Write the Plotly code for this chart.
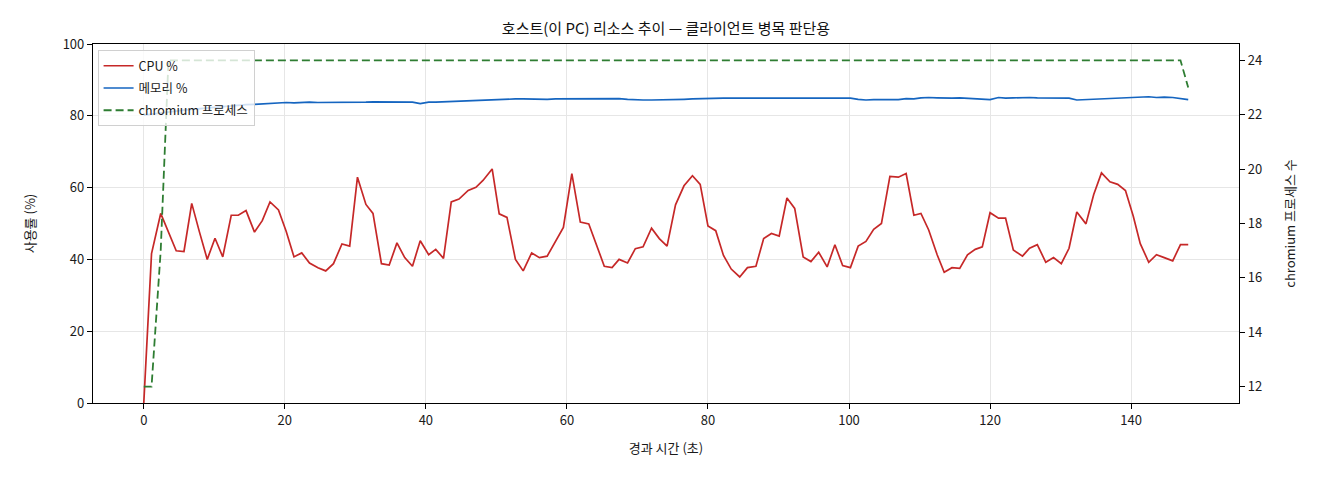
import plotly.graph_objects as go

# 경과 시간 (초)
elapsed = [
    0.0, 1.1, 2.4, 3.5, 4.6, 5.7, 6.8, 7.9, 9.0, 10.1,
    11.2, 12.4, 13.4, 14.5, 15.7, 16.8, 17.9, 19.1, 20.2, 21.3,
    22.4, 23.5, 24.7, 25.8, 26.9, 28.1, 29.2, 30.3, 31.5, 32.5,
    33.7, 34.8, 35.9, 37.0, 38.1, 39.2, 40.4, 41.4, 42.5, 43.6,
    44.7, 46.0, 47.1, 48.1, 49.4, 50.4, 51.5, 52.7, 53.8, 55.0,
    56.1, 57.2, 58.4, 59.5, 60.7, 61.9, 63.1, 64.2, 65.3, 66.4,
    67.4, 68.6, 69.7, 70.8, 72.0, 73.1, 74.2, 75.4, 76.6, 77.8,
    78.9, 80.0, 81.1, 82.2, 83.3, 84.5, 85.6, 86.8, 87.9, 89.0,
    90.1, 91.2, 92.3, 93.5, 94.6, 95.7, 96.9, 98.0, 99.1, 100.2,
    101.3, 102.4, 103.5, 104.6, 105.8, 107.0, 108.1, 109.2, 110.2, 111.3,
    112.5, 113.5, 114.6, 115.7, 116.8, 117.9, 118.9, 120.0, 121.2, 122.2,
    123.3, 124.6, 125.6, 126.7, 127.9, 129.0, 130.1, 131.2, 132.3, 133.6,
    134.7, 135.8, 137.0, 138.1, 139.2, 140.3, 141.3, 142.5, 143.6, 144.7,
    145.9, 147.0, 148.1,
]

cpu = [
    0.0, 41.6, 52.8, 47.6, 42.4, 42.2, 55.6, 47.6, 40.0, 45.9,
    40.7, 52.3, 52.3, 53.6, 47.6, 50.8, 56.0, 53.8, 47.8, 40.7,
    41.8, 39.0, 37.7, 36.8, 38.8, 44.3, 43.7, 62.9, 55.3, 52.8,
    38.8, 38.4, 44.6, 40.5, 38.1, 45.2, 41.3, 42.8, 40.3, 56.0,
    56.8, 59.2, 60.1, 62.0, 65.2, 52.7, 51.7, 40.0, 36.8, 41.8,
    40.5, 40.9, 45.0, 48.9, 63.9, 50.4, 49.9, 43.7, 38.1, 37.7,
    40.0, 39.0, 43.0, 43.5, 48.7, 45.8, 43.7, 55.2, 60.5, 63.3,
    60.9, 49.3, 48.0, 41.1, 37.3, 35.1, 37.7, 38.1, 45.8, 47.2,
    46.5, 57.1, 54.2, 40.7, 39.4, 42.0, 37.9, 44.1, 38.3, 37.7,
    43.7, 45.0, 48.4, 50.0, 63.1, 62.9, 63.9, 52.3, 52.8, 48.2,
    41.3, 36.4, 37.7, 37.5, 41.3, 42.8, 43.5, 53.0, 51.5, 51.5,
    42.6, 40.9, 43.1, 44.1, 39.2, 40.5, 38.8, 43.1, 53.2, 49.9,
    58.1, 64.1, 61.6, 60.9, 59.2, 52.1, 44.4, 39.2, 41.3, 40.5,
    39.6, 44.1, 44.1,
]

memory = [
    80.2, 80.5, 80.9, 81.1, 81.4, 81.6, 81.8, 82.0, 82.3, 82.4,
    82.6, 82.8, 82.9, 83.1, 83.2, 83.3, 83.5, 83.6, 83.7, 83.6,
    83.7, 83.8, 83.7, 83.7, 83.6, 83.7, 83.6, 83.7, 83.8, 83.9,
    83.9, 83.8, 83.8, 83.9, 83.8, 83.4, 83.8, 83.8, 83.9, 83.9,
    84.0, 84.1, 84.3, 84.3, 84.5, 84.6, 84.7, 84.7, 84.7, 84.6,
    84.7, 84.6, 84.7, 84.7, 84.8, 84.7, 84.8, 84.7, 84.9, 84.8,
    84.8, 84.6, 84.4, 84.4, 84.4, 84.4, 84.5, 84.6, 84.6, 84.7,
    84.8, 84.7, 85.0, 84.9, 84.9, 84.8, 84.9, 84.9, 84.8, 84.9,
    84.9, 85.0, 84.9, 84.9, 84.9, 85.0, 84.9, 85.0, 85.0, 84.9,
    84.6, 84.4, 84.5, 84.5, 84.6, 84.5, 84.8, 84.7, 85.0, 85.1,
    85.0, 84.9, 84.9, 85.0, 84.9, 84.8, 84.7, 84.5, 85.1, 84.9,
    85.0, 85.1, 85.1, 85.0, 85.0, 85.0, 84.9, 84.9, 84.4, 84.5,
    84.6, 84.7, 84.8, 84.9, 85.0, 85.0, 85.1, 85.3, 85.1, 85.2,
    85.1, 84.9, 84.5,
]

chromium = [12, 12, 17] + [24] * 129 + [23]

FONT = "Noto Sans CJK KR, Noto Sans, sans-serif"

fig = go.Figure()
fig.add_trace(go.Scatter(x=elapsed, y=cpu, name="CPU %", mode="lines", legendgroup="cpu",
                         line=dict(color="#c62828", width=1.7)))
fig.add_trace(go.Scatter(x=elapsed, y=memory, name="메모리 %", mode="lines", legendgroup="mem",
                         line=dict(color="#1565c0", width=1.7)))
fig.add_trace(go.Scatter(x=elapsed, y=chromium, name="chromium 프로세스", mode="lines",
                         yaxis="y2", legendgroup="chr",
                         line=dict(color="#2e7d32", width=1.8, dash="8px,4px")))

fig.update_layout(
    width=1320, height=480,
    margin=dict(l=93, r=81, t=44, b=77),
    paper_bgcolor="white", plot_bgcolor="white",
    font=dict(family=FONT, size=13, color="#1a1a1a"),
    title=dict(text="호스트(이 PC) 리소스 추이 — 클라이언트 병목 판단용",
               x=0.5, xref="paper", xanchor="center", y=0.94, yanchor="middle",
               font=dict(size=15, color="#111111")),
    xaxis=dict(range=[-7.2, 155.3], tickvals=[0, 20, 40, 60, 80, 100, 120, 140],
               title=dict(text="경과 시간 (초)", font=dict(size=13), standoff=16),
               showline=True, linecolor="black", linewidth=1.2, mirror=True,
               ticks="outside", ticklen=5, tickcolor="black",
               showgrid=True, gridcolor="#e6e6e6", gridwidth=1, zeroline=False),
    yaxis=dict(range=[0, 100], tickvals=[0, 20, 40, 60, 80, 100],
               title=dict(text="사용률 (%)", font=dict(size=13), standoff=24),
               showline=True, linecolor="black", linewidth=1.2,
               ticks="outside", ticklen=5, tickcolor="black",
               showgrid=True, gridcolor="#e6e6e6", gridwidth=1, zeroline=False),
    yaxis2=dict(range=[11.4, 24.6], tickvals=[12, 14, 16, 18, 20, 22, 24],
                overlaying="y", side="right",
                title=dict(text="chromium 프로세스 수", font=dict(size=13), standoff=24),
                showline=True, linecolor="black", linewidth=1.2,
                ticks="outside", ticklen=5, tickcolor="black",
                showgrid=False, zeroline=False),
    legend=dict(x=0.004, y=0.983, xanchor="left", yanchor="top",
                bgcolor="rgba(255,255,255,0.8)", bordercolor="#d0d0d0", borderwidth=1,
                font=dict(size=12.5), itemwidth=30, tracegroupgap=3),
    showlegend=True,
)

# 페이지 기본 여백 제거
fig.write_html("out.html", config={"displayModeBar": False},
               post_script="document.body.style.margin='0';")
